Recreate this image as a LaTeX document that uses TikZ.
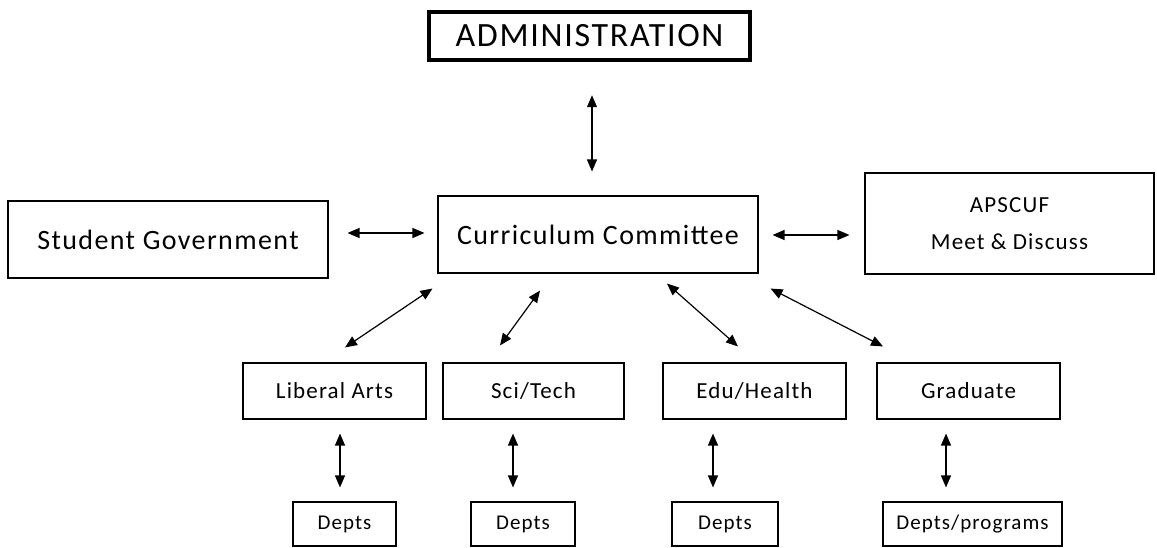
\documentclass[tikz,border=0pt]{standalone}
\usepackage{fontspec}
\setmainfont{Carlito}
\newfontfamily\chartfont[LetterSpace=5]{Carlito}
\usetikzlibrary{arrows.meta}

\begin{document}
\begin{tikzpicture}[x=1pt,y=-1pt,
	box/.style={draw,line width=1.1pt,inner sep=0pt,align=center},
	huge/.style={font=\chartfont\fontsize{34}{40}\selectfont},
	large/.style={font=\chartfont\fontsize{28}{34}\selectfont},
	medium/.style={font=\chartfont\fontsize{23}{37}\selectfont},
	small/.style={font=\chartfont\fontsize{21}{25}\selectfont},
	link/.style={{Triangle[length=12pt,width=10pt]}-{Triangle[length=12pt,width=10pt]},line width=1.2pt}]
		\useasboundingbox (0,0) rectangle (1157,548);
		% top rows
		\node[box,huge,line width=4.5pt,minimum width=321,minimum height=48] (admin) at (589.5,36) {ADMINISTRATION};
		\node[box,large,minimum width=320,minimum height=77] (cc) at (598,234.5) {Curriculum Committee};
		\node[box,large,minimum width=320,minimum height=77] (stu) at (168,239.5) {Student Government};
		\node[box,medium,minimum width=289,minimum height=101] (aps) at (1009.5,223.5) {APSCUF\\Meet \& Discuss};
		% colleges
		\node[box,medium,minimum width=183,minimum height=56] (lib) at (334.5,391) {Liberal Arts};
		\node[box,medium,minimum width=181,minimum height=56] (sci) at (533.5,391) {Sci/Tech};
		\node[box,medium,minimum width=183,minimum height=56] (edu) at (754.5,391) {Edu/Health};
		\node[box,medium,minimum width=183,minimum height=56] (grad) at (968.5,391) {Graduate};
		% departments
		\node[box,small,minimum width=103,minimum height=44] (d1) at (344.5,524) {Depts};
		\node[box,small,minimum width=104,minimum height=44] (d2) at (523,524) {Depts};
		\node[box,small,minimum width=106,minimum height=44] (d3) at (725,524) {Depts};
		\node[box,small,minimum width=179,minimum height=44] (d4) at (972.5,524) {Depts/programs};
		% arrows
		\draw[link] ([shift={(2.5,33)}]admin.south) -- ([shift={(-6,-24)}]cc.north);
		\draw[link] ([shift={(19,-6.5)}]stu.east) -- ([shift={(-13,-1.5)}]cc.west);
		\draw[link] ([shift={(14,0.5)}]cc.east) -- ([shift={(-15,11.5)}]aps.west);
		\draw[link] ([shift={(-5,15)}]cc.south west) -- ([shift={(10.5,-15)}]lib.north);
		\draw[link] ([shift={(-58,17)}]cc.south) -- ([shift={(-33.5,-17)}]sci.north);
		\draw[link] ([shift={(69,10)}]cc.south) -- ([shift={(-16.5,-16)}]edu.north);
		\draw[link] ([shift={(12,15)}]cc.south east) -- ([shift={(-85.5,-16)}]grad.north);
		\draw[link] ([shift={(5.5,14)}]lib.south) -- ([shift={(-4.5,-14)}]d1.north);
		\draw[link] ([shift={(-20.5,14)}]sci.south) -- ([shift={(-10,-14)}]d2.north);
		\draw[link] ([shift={(-41.5,14)}]edu.south) -- ([shift={(-12,-14)}]d3.north);
		\draw[link] ([shift={(-22.5,14)}]grad.south) -- ([shift={(-26.5,-14)}]d4.north);
\end{tikzpicture}
\end{document}
